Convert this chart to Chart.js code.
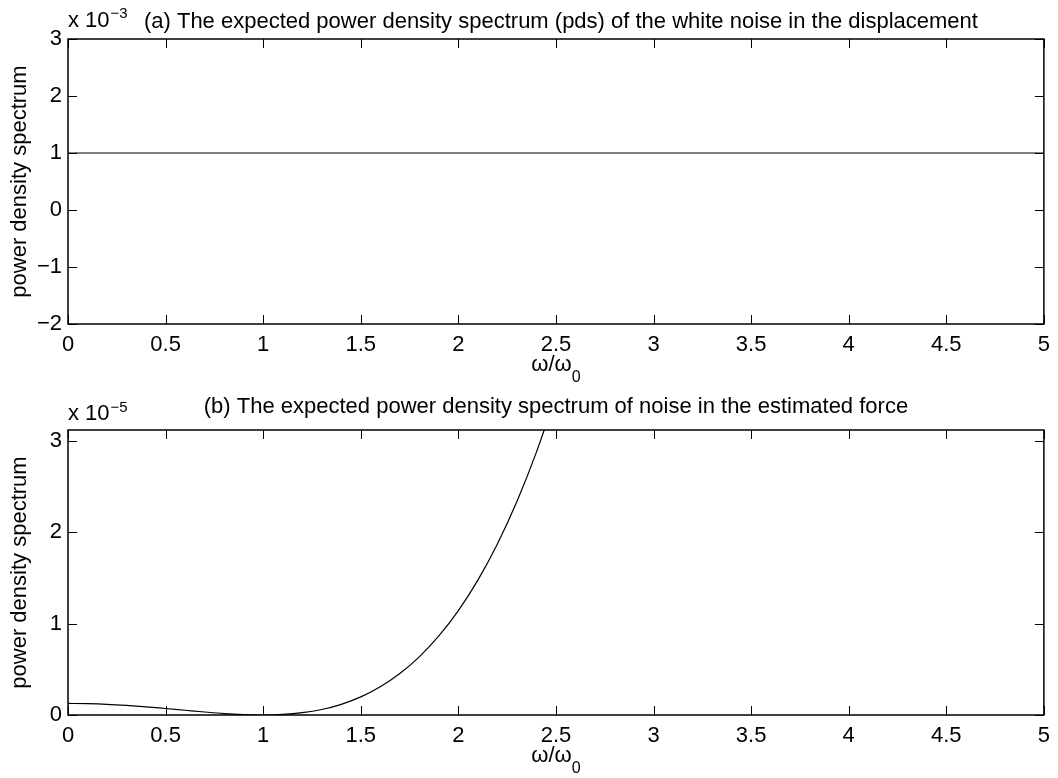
<!DOCTYPE html>
<html>
<head>
<meta charset="utf-8">
<script src="https://cdn.jsdelivr.net/npm/chart.js@4.4.0/dist/chart.umd.min.js"></script>
<style>
  html, body { margin: 0; padding: 0; background: #fff; }
  #wrap { position: relative; width: 1058px; height: 778px; }
  .panel { position: absolute; left: 0; width: 1058px; height: 389px; }
</style>
</head>
<body>
<div id="wrap">
  <div class="panel" style="top:0"><canvas id="chartA" width="1058" height="389"></canvas></div>
  <div class="panel" style="top:389px"><canvas id="chartB" width="1058" height="389"></canvas></div>
</div>
<script>
// ---- data ----
// (a) white noise in displacement, values in units of 1e-3
const freqA = [0, 1, 2, 3, 4, 5];
const pdsA = [1, 1, 1, 1, 1, 1];
// (b) noise in estimated force, values in units of 1e-5
const freqB = [0, 0.1, 0.2, 0.3, 0.4, 0.5, 0.6, 0.7, 0.8, 0.9, 1.0, 1.1, 1.2,
               1.3, 1.4, 1.5, 1.6, 1.7, 1.8, 1.9, 2.0, 2.1, 2.2, 2.3, 2.4, 2.5];
const pdsB = [0.127, 0.124, 0.117, 0.105, 0.090, 0.071, 0.052, 0.033, 0.016, 0.005, 0.000, 0.006, 0.025,
              0.060, 0.117, 0.198, 0.309, 0.454, 0.637, 0.865, 1.143, 1.477, 1.873, 2.337, 2.878, 3.50];

const titleA = '(a) The expected power density spectrum (pds) of the white noise in the displacement';
const titleB = '(b) The expected power density spectrum of noise in the estimated force';
const yLabel = 'power density spectrum';

const FONT = '"Liberation Sans", Arial, Helvetica, sans-serif';
Chart.defaults.font.family = FONT;
Chart.defaults.font.size = 22;
Chart.defaults.color = '#000';

// box, inward ticks on all sides, titles, exponent and x label
const axesDecor = {
  id: 'axesDecor',
  afterDraw(chart, args, o) {
    const { ctx, chartArea: a, scales: { x, y } } = chart;
    ctx.save();
    ctx.strokeStyle = '#000';
    ctx.lineWidth = 1;
    ctx.beginPath();
    x.ticks.forEach(t => {
      const px = Math.round(x.getPixelForValue(t.value)) + 0.5;
      ctx.moveTo(px, a.bottom); ctx.lineTo(px, a.bottom - 9);
      ctx.moveTo(px, a.top); ctx.lineTo(px, a.top + 9);
    });
    y.ticks.forEach(t => {
      const py = Math.round(y.getPixelForValue(t.value)) + 0.5;
      ctx.moveTo(a.left, py); ctx.lineTo(a.left + 9, py);
      ctx.moveTo(a.right, py); ctx.lineTo(a.right - 9, py);
    });
    ctx.stroke();
    ctx.lineWidth = 1.5;
    ctx.strokeRect(a.left, a.top, a.right - a.left, a.bottom - a.top);

    ctx.fillStyle = '#000';
    ctx.textBaseline = 'alphabetic';
    // title
    ctx.font = '22px ' + FONT;
    ctx.textAlign = 'center';
    ctx.fillText(o.title, (a.left + a.right) / 2 + o.titleDx, a.top - o.titleDy);
    // exponent "x 10^-n"
    ctx.textAlign = 'left';
    ctx.fillText('x 10', a.left, a.top - o.expDy);
    const w = ctx.measureText('x 10').width;
    ctx.font = '15px ' + FONT;
    ctx.fillText('\u2212' + o.exp, a.left + w + 1, a.top - o.supDy);
    // x label omega/omega_0
    ctx.font = '22px ' + FONT;
    const main = '\u03c9/\u03c9';
    const mw = ctx.measureText(main).width;
    ctx.font = '16px ' + FONT;
    const sw = ctx.measureText('0').width;
    const x0 = (a.left + a.right) / 2 - (mw + sw) / 2;
    ctx.font = '22px ' + FONT;
    ctx.fillText(main, x0, a.bottom + 47);
    ctx.font = '16px ' + FONT;
    ctx.fillText('0', x0 + mw, a.bottom + 58);
    ctx.restore();
  }
};

function makePanel(id, xs, ys, yMin, yMax, padTop, xAxisH, deco) {
  return new Chart(document.getElementById(id), {
    type: 'line',
    data: {
      datasets: [{
        data: xs.map((v, i) => ({ x: v, y: ys[i] })),
        borderColor: '#000',
        borderWidth: 1.2,
        pointRadius: 0,
        cubicInterpolationMode: 'monotone',
        fill: false
      }]
    },
    options: {
      responsive: false,
      animation: false,
      layout: { padding: { top: padTop, right: 11, bottom: 0, left: 0 } },
      plugins: {
        legend: { display: false },
        tooltip: { enabled: false },
        axesDecor: deco
      },
      scales: {
        x: {
          type: 'linear',
          min: 0, max: 5,
          grid: { display: false, drawTicks: false },
          border: { display: false },
          ticks: {
            stepSize: 0.5, padding: 8, maxRotation: 0, autoSkip: false,
            callback: v => String(Math.round(v * 10) / 10)
          },
          afterFit: s => { s.height = xAxisH; }
        },
        y: {
          min: yMin, max: yMax,
          grid: { display: false, drawTicks: false },
          border: { display: false },
          ticks: {
            stepSize: 1, padding: 6, includeBounds: false,
            callback: v => (v < 0 ? '\u2212' + Math.abs(v) : String(v))
          },
          title: { display: true, text: yLabel, padding: { top: 7, bottom: 0 } },
          afterFit: s => { s.width = 68; }
        }
      }
    },
    plugins: [axesDecor]
  });
}

makePanel('chartA', freqA, pdsA, -2, 3, 39, 65,
  { title: titleA, exp: '3', titleDx: 5, titleDy: 11, expDy: 12, supDy: 21 });
makePanel('chartB', freqB, pdsB, 0, 3.12, 41, 63,
  { title: titleB, exp: '5', titleDx: 0, titleDy: 17, expDy: 10, supDy: 18 });
</script>
</body>
</html>
